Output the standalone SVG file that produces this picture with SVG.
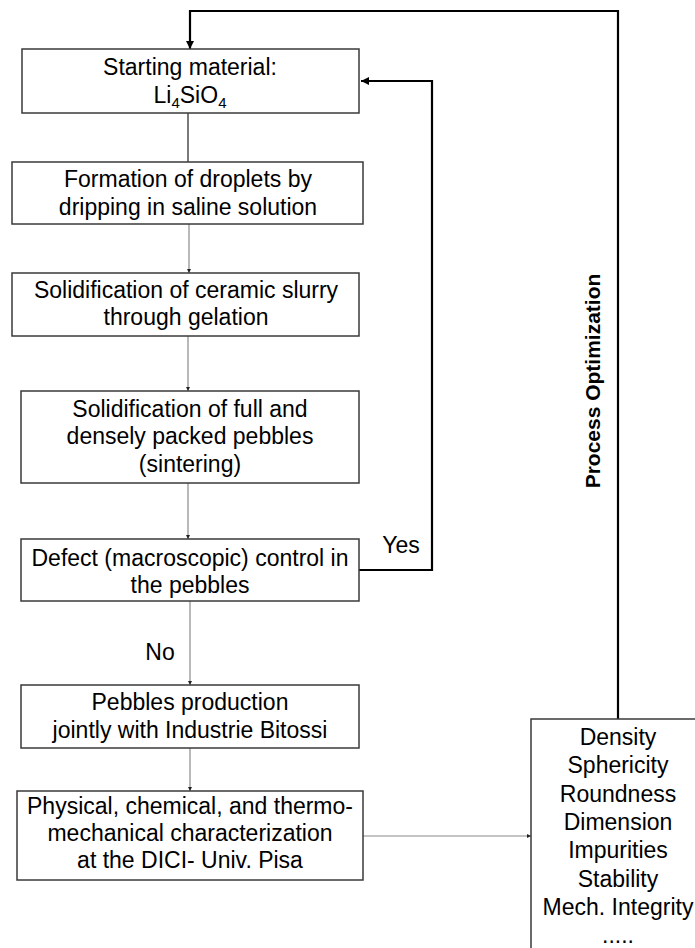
<svg xmlns="http://www.w3.org/2000/svg" width="695" height="948" viewBox="0 0 695 948">
<style>
.box{fill:#fff;stroke:#3a3a3a;stroke-width:1.5}
.t{font-family:"Liberation Sans",Arial,sans-serif;font-size:23px;fill:#000;text-anchor:middle}
.c{fill:none;stroke:#8a8a8a;stroke-width:1.2}
.k{fill:none;stroke:#000;stroke-width:2.2}
</style>
<defs>
<marker id="ag" viewBox="0 0 6 6" refX="6" refY="3" markerWidth="4" markerHeight="4" orient="auto" markerUnits="userSpaceOnUse"><path d="M0,0 L6,3 L0,6 z" fill="#222"/></marker>
<marker id="ak" viewBox="0 0 8 8" refX="8" refY="4" markerWidth="8" markerHeight="8" orient="auto" markerUnits="userSpaceOnUse"><path d="M0,0 L8,4 L0,8 z" fill="#000"/></marker>
</defs>
<rect width="695" height="948" fill="#fff"/>
<g id="connectors">
<line class="c" x1="188" y1="113" x2="188" y2="162" style="stroke-width:2;stroke:#7a7a7a"/>
<line class="c" x1="189" y1="224" x2="189" y2="273" marker-end="url(#ag)"/>
<line class="c" x1="188" y1="336" x2="188" y2="391" marker-end="url(#ag)"/>
<line class="c" x1="188" y1="483" x2="188" y2="539" marker-end="url(#ag)"/>
<line class="c" x1="190" y1="601" x2="190" y2="685" marker-end="url(#ag)"/>
<line class="c" x1="190" y1="748" x2="190" y2="791" marker-end="url(#ag)"/>
<line class="c" x1="363" y1="836" x2="531" y2="836" marker-end="url(#ag)"/>
<polyline class="k" points="359,570 432,570 432,81 361,81" marker-end="url(#ak)"/>
<polyline class="k" points="618,719 618,11 190,11 190,49" marker-end="url(#ak)"/>
<text class="t" x="401" y="553">Yes</text>
<text class="t" x="160" y="660">No</text>
<text class="t" x="600" y="381" transform="rotate(-90 600 381)" style="font-weight:bold;font-size:21px">Process Optimization</text>
</g>
<g id="n1">
<rect class="box" x="22" y="49" width="337" height="64"/>
<text class="t" x="190" y="75">Starting material:</text>
<text class="t" x="190" y="103">Li<tspan font-size="15" dy="5">4</tspan><tspan dy="-5">SiO</tspan><tspan font-size="15" dy="5">4</tspan></text>
</g>
<g id="n2">
<rect class="box" x="12" y="162" width="351" height="62"/>
<text class="t" x="188" y="187">Formation of droplets by</text>
<text class="t" x="188" y="215">dripping in saline solution</text>
</g>
<g id="n3">
<rect class="box" x="12" y="273" width="347" height="63"/>
<text class="t" x="186" y="298">Solidification of ceramic slurry</text>
<text class="t" x="186" y="325">through gelation</text>
</g>
<g id="n4">
<rect class="box" x="21" y="391" width="338" height="92"/>
<text class="t" x="190" y="417">Solidification of full and</text>
<text class="t" x="190" y="444">densely packed pebbles</text>
<text class="t" x="190" y="472">(sintering)</text>
</g>
<g id="n5">
<rect class="box" x="21" y="539" width="338" height="62"/>
<text class="t" x="190" y="566">Defect (macroscopic) control in</text>
<text class="t" x="190" y="593">the pebbles</text>
</g>
<g id="n6">
<rect class="box" x="21" y="685" width="338" height="63"/>
<text class="t" x="190" y="710">Pebbles production</text>
<text class="t" x="190" y="738">jointly with Industrie Bitossi</text>
</g>
<g id="n7">
<rect class="box" x="17" y="791" width="346" height="89"/>
<text class="t" x="190" y="814">Physical, chemical, and thermo-</text>
<text class="t" x="190" y="841">mechanical characterization</text>
<text class="t" x="190" y="868">at the DICI- Univ. Pisa</text>
</g>
<g id="n8">
<rect class="box" x="531" y="719" width="176" height="240"/>
<text class="t" x="618" y="745">Density</text>
<text class="t" x="618" y="773">Sphericity</text>
<text class="t" x="618" y="802">Roundness</text>
<text class="t" x="618" y="830">Dimension</text>
<text class="t" x="618" y="858">Impurities</text>
<text class="t" x="618" y="887">Stability</text>
<text class="t" x="618" y="915">Mech. Integrity</text>
<text class="t" x="618" y="943">.....</text>
</g>
</svg>
